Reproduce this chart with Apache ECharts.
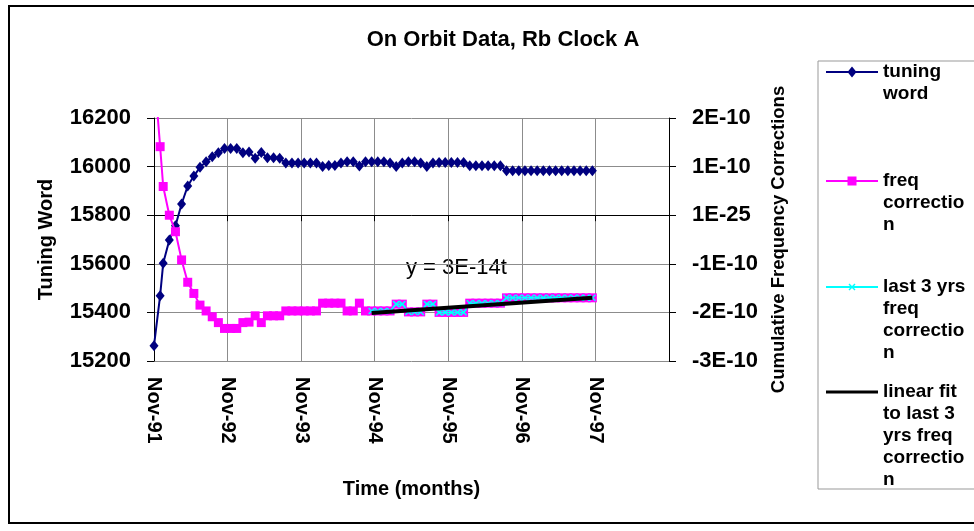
<!DOCTYPE html>
<html>
<head>
<meta charset="utf-8">
<script src="https://cdn.jsdelivr.net/npm/echarts@6/dist/echarts.min.js"></script>
<style>
  html, body { margin: 0; padding: 0; background: #fff; }
  #chart { width: 974px; height: 531px; }
</style>
</head>
<body>
<div id="chart"></div>
<script>
// x positions in months since Nov-91
const months = [
  0, 1, 1.5, 2.5, 3.5, 4.5, 5.5, 6.5, 7.5, 8.5, 9.5, 10.5, 11.5, 12.5, 13.5, 14.5,
  15.5, 16.5, 17.5, 18.5, 19.5, 20.5, 21.5, 22.5, 23.5, 24.5, 25.5, 26.5, 27.5, 28.5,
  29.5, 30.5, 31.5, 32.5, 33.5, 34.5, 35.5, 36.5, 37.5, 38.5, 39.5, 40.5, 41.5, 42.5,
  43.5, 44.5, 45.5, 46.5, 47.5, 48.5, 49.5, 50.5, 51.5, 52.5, 53.5, 54.5, 55.5, 56.5,
  57.5, 58.5, 59.5, 60.5, 61.5, 62.5, 63.5, 64.5, 65.5, 66.5, 67.5, 68.5, 69.5, 70.5, 71.5
];

// tuning word (left axis)
const tuningWord = [
  15263, 15469, 15602, 15698, 15757, 15846, 15920, 15961, 15997, 16020, 16041, 16057,
  16075, 16075, 16075, 16057, 16060, 16034, 16058, 16036, 16036, 16034,
  16015, 16015, 16015, 16015, 16015, 16015, 16000, 16005, 16005, 16015, 16020, 16020,
  16002, 16020, 16020, 16020, 16020, 16015, 16000, 16015, 16020, 16020, 16015, 16000,
  16015, 16017, 16017, 16017, 16017, 16017, 16003, 16003, 16003, 16003, 16003, 16003,
  15983, 15983, 15983, 15983, 15983, 15983, 15983, 15983, 15983, 15983, 15983, 15983,
  15983, 15983, 15983
];

// cumulative frequency corrections, in units of 1E-10 (right axis)
const freqCorr = [
  3.0, 1.41, 0.59, 0.0, -0.34, -0.92, -1.38, -1.61, -1.85, -1.97, -2.09, -2.21,
  -2.33, -2.33, -2.33, -2.21, -2.2, -2.07, -2.21, -2.07, -2.07, -2.07,
  -1.97, -1.97, -1.97, -1.97, -1.97, -1.97, -1.81, -1.81, -1.81, -1.81, -1.97, -1.97,
  -1.81, -1.97, -1.97, -1.97, -1.97, -1.97, -1.83, -1.83, -1.99, -1.99, -1.99, -1.83,
  -1.83, -2.0, -2.0, -2.0, -2.0, -2.0, -1.81, -1.81, -1.81, -1.81, -1.81, -1.81,
  -1.7, -1.7, -1.7, -1.7, -1.7, -1.7, -1.7, -1.7, -1.7, -1.7, -1.7, -1.7,
  -1.7, -1.7, -1.7
];

// last 3 years starts at Nov-94 + half month
const lastStart = 36;

// linear fit end points (month, 1E-10)
const fitMonths = [35.5, 71.5];
const fitValues = [-2.01, -1.7];

const xTickLabels = ["Nov-91", "Nov-92", "Nov-93", "Nov-94", "Nov-95", "Nov-96", "Nov-97", ""];
const rightTickLabels = ["-3E-10", "-2E-10", "-1E-10", "1E-25", "1E-10", "2E-10"];

const seriesNames = [
  "tuning word",
  "freq correction",
  "last 3 yrs freq correction",
  "linear fit to last 3 yrs freq correction",
];
const legendText = {
  "tuning word": "tuning\nword",
  "freq correction": "freq\ncorrectio\nn",
  "last 3 yrs freq correction": "last 3 yrs\nfreq\ncorrectio\nn",
  "linear fit to last 3 yrs freq correction": "linear fit\nto last 3\nyrs freq\ncorrectio\nn",
};

const FONT = "Liberation Sans";
const LINE_H = 22;

// legend icons: line + marker drawn at the top of a tall box,
// so the icon lines up with the first line of the wrapped text
const legendLines = [2, 3, 4, 5];
const legendRowY = [72, 181, 287, 392];
const iconMarks = [
  "M0,5L52,5L52,7L0,7Z M26,0.5L30.5,6L26,11.5L21.5,6Z",
  "M0,5L52,5L52,7L0,7Z M21.5,1.5L30.5,1.5L30.5,10.5L21.5,10.5Z",
  "M0,5L52,5L52,7L0,7Z M22.5,3.5L23.5,2.5L29.5,8.5L28.5,9.5Z M28.5,2.5L29.5,3.5L23.5,9.5L22.5,8.5Z",
  "M0,4.5L52,4.5L52,7.5L0,7.5Z",
];

const legends = seriesNames.map((name, i) => {
  const h = 12 + (legendLines[i] - 1) * LINE_H;
  return {
    data: [{
      name: name,
      icon: "path://" + iconMarks[i] + " M0,0L0.1,0L0,0Z M0," + h + "L0.1," + h + "L0," + h + "Z",
      itemStyle: { borderWidth: 0 },
    }],
    left: 826,
    top: legendRowY[i] - 11,
    padding: 0,
    itemWidth: 52,
    itemHeight: h,
    itemGap: 5,
    formatter: (n) => legendText[n],
    textStyle: {
      fontFamily: FONT,
      fontWeight: "bold",
      fontSize: 19,
      lineHeight: LINE_H,
      color: "#000",
    },
  };
});

const chart = echarts.init(document.getElementById("chart"));
chart.setOption({
  animation: false,
  backgroundColor: "#fff",
  title: {
    text: "On Orbit Data, Rb Clock A",
    left: 498,
    top: 24,
    textAlign: "center",
    textStyle: { fontFamily: FONT, fontWeight: "bold", fontSize: 22, color: "#000" },
  },
  legend: legends,
  grid: { left: 154, right: 305, top: 118, bottom: 170, show: false },
  xAxis: {
    type: "value",
    min: 0,
    max: 84,
    interval: 12,
    name: "Time (months)",
    nameLocation: "middle",
    nameGap: 118,
    nameTextStyle: { fontFamily: FONT, fontWeight: "bold", fontSize: 20, color: "#000" },
    axisLine: { lineStyle: { color: "#000", width: 1 } },
    axisTick: { show: true, length: 6, lineStyle: { color: "#000" } },
    axisLabel: {
      rotate: -90,
      margin: 16,
      fontFamily: FONT,
      fontWeight: "bold",
      fontSize: 20,
      color: "#000",
      formatter: (v) => xTickLabels[Math.round(v / 12)],
    },
    splitLine: { show: true, lineStyle: { color: "#8c8c8c", width: 1 } },
  },
  yAxis: [
    {
      type: "value",
      position: "left",
      min: 15200,
      max: 16200,
      interval: 200,
      name: "Tuning Word",
      nameLocation: "middle",
      nameGap: 98,
      nameTextStyle: { fontFamily: FONT, fontWeight: "bold", fontSize: 20, color: "#000" },
      axisLine: { show: true, lineStyle: { color: "#000", width: 1 } },
      axisTick: { show: true, length: 7, lineStyle: { color: "#000" } },
      axisLabel: {
        margin: 23,
        fontFamily: FONT,
        fontWeight: "bold",
        fontSize: 22,
        color: "#000",
        formatter: (v) => String(v),
      },
      splitLine: { show: true, lineStyle: { color: "#8c8c8c", width: 1 } },
    },
    {
      type: "value",
      position: "right",
      min: -3,
      max: 2,
      interval: 1,
      name: "Cumulative Frequency Corrections",
      nameLocation: "middle",
      nameGap: 97,
      nameTextStyle: { fontFamily: FONT, fontWeight: "bold", fontSize: 18.5, color: "#000" },
      axisLine: { show: true, lineStyle: { color: "#000", width: 1 } },
      axisTick: { show: true, length: 7, lineStyle: { color: "#000" } },
      axisLabel: {
        margin: 23,
        fontFamily: FONT,
        fontWeight: "bold",
        fontSize: 22,
        color: "#000",
        formatter: (v) => rightTickLabels[Math.round(v + 3)],
      },
      splitLine: { show: false },
    },
  ],
  graphic: [
    // outer chart border
    {
      type: "rect",
      shape: { x: 9, y: 6, width: 990, height: 517 },
      style: { fill: null, stroke: "#000", lineWidth: 2 },
      silent: true,
    },
    // legend box
    {
      type: "rect",
      shape: { x: 818, y: 61, width: 200, height: 428 },
      style: { fill: null, stroke: "#999", lineWidth: 1 },
      silent: true,
    },
    {
      type: "text",
      left: 406,
      top: 257,
      style: {
        text: "y = 3E-14t",
        fontFamily: FONT,
        fontSize: 22,
        fill: "#000",
      },
      silent: true,
    },
  ],
  series: [
    {
      name: seriesNames[0],
      type: "line",
      yAxisIndex: 0,
      z: 2,
      data: pairs(months, tuningWord),
      symbol: "diamond",
      symbolSize: [9, 11],
      lineStyle: { color: "#000080", width: 2 },
      itemStyle: { color: "#000080" },
    },
    {
      name: seriesNames[1],
      type: "line",
      yAxisIndex: 1,
      z: 3,
      data: pairs(months, freqCorr),
      symbol: "rect",
      symbolSize: 9,
      lineStyle: { color: "#ff00ff", width: 2 },
      itemStyle: { color: "#ff00ff" },
    },
    {
      name: seriesNames[2],
      type: "line",
      yAxisIndex: 1,
      z: 4,
      data: pairs(months.slice(lastStart), freqCorr.slice(lastStart)),
      symbol: "path://M0,0L10,10M10,0L0,10",
      symbolSize: 6,
      lineStyle: { color: "#00ffff", width: 1.5 },
      itemStyle: { color: "#00ffff", borderColor: "#00ffff", borderWidth: 1.5 },
    },
    {
      name: seriesNames[3],
      type: "line",
      yAxisIndex: 1,
      z: 5,
      data: pairs(fitMonths, fitValues),
      symbol: "none",
      lineStyle: { color: "#000", width: 4 },
      itemStyle: { color: "#000" },
    },
  ],
});

function pairs(xs, ys) {
  return xs.map((x, i) => [x, ys[i]]);
}
</script>
</body>
</html>
